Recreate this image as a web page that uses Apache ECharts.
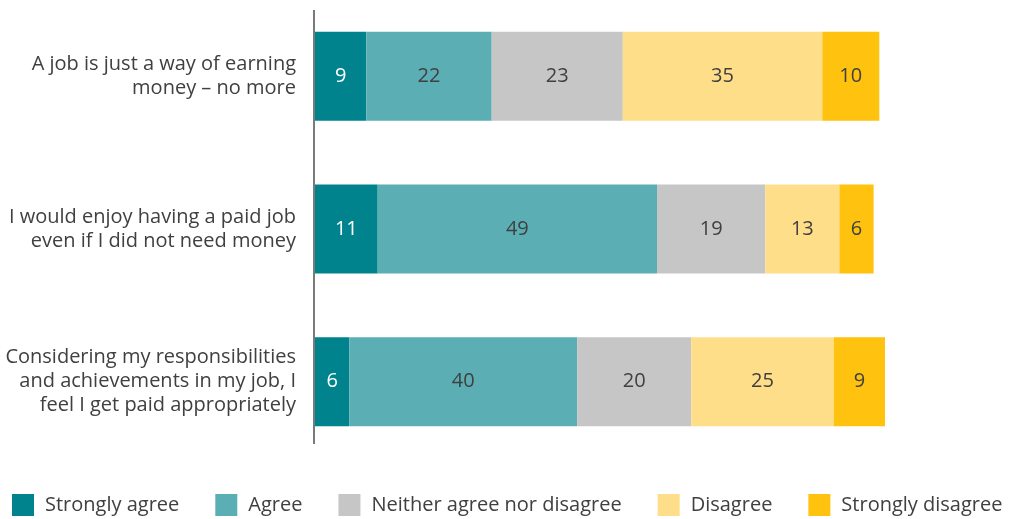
<!DOCTYPE html>
<html>
<head>
<meta charset="utf-8">
<style>
  html, body { margin: 0; padding: 0; background: #fff; }
  #chart { width: 1010px; height: 519px; }
</style>
<script src="https://cdn.jsdelivr.net/npm/echarts@6/dist/echarts.min.js"></script>
</head>
<body>
<div id="chart"></div>
<script>
// Survey statements (top to bottom)
const statements = [
  'A job is just a way of earning\nmoney – no more',
  'I would enjoy having a paid job\neven if I did not need money',
  'Considering my responsibilities\nand achievements in my job, I\nfeel I get paid appropriately'
];

// Response shares (%) per statement
const stronglyAgree    = [9, 11, 6];
const agree            = [22, 49, 40];
const neither          = [23, 19, 20];
const disagree         = [35, 13, 25];
const stronglyDisagree = [10, 6, 9];

const seriesNames = ['Strongly agree', 'Agree', 'Neither agree nor disagree', 'Disagree', 'Strongly disagree'];
const seriesData  = [stronglyAgree, agree, neither, disagree, stronglyDisagree];
const colors      = ['#00838C', '#5AAEB4', '#C6C6C6', '#FFDE89', '#FFC20F'];
const labelColors = ['#ffffff', '#404040', '#404040', '#404040', '#404040'];

const FONT = '"Open Sans", sans-serif';

const chart = echarts.init(document.getElementById('chart'), null, { renderer: 'canvas' });

chart.setOption({
  animation: false,
  color: colors,
  textStyle: { fontFamily: FONT },
  grid: { left: 315, right: 125, top: -4, height: 462 },
  legend: {
    top: 489,
    left: 7,
    itemWidth: 22,
    itemHeight: 22,
    itemGap: 36,
    icon: 'rect',
    textStyle: { fontFamily: FONT, fontSize: 20, color: '#404040', padding: [0, 0, 0, 6] },
    data: seriesNames
  },
  xAxis: {
    type: 'value',
    min: 0,
    max: 100,
    show: false
  },
  yAxis: {
    type: 'category',
    inverse: true,
    data: statements,
    axisLine: { show: false },
    axisTick: { show: false },
    axisLabel: {
      margin: 19,
      fontFamily: FONT,
      fontSize: 20,
      lineHeight: 24,
      color: '#404040',
      align: 'right'
    }
  },
  graphic: [{
    type: 'line',
    shape: { x1: 314, y1: 10, x2: 314, y2: 444 },
    style: { stroke: '#7a7a7a', lineWidth: 2 },
    z: 10
  }],
  series: seriesNames.map((name, i) => ({
    name: name,
    type: 'bar',
    stack: 'total',
    barWidth: 89,
    data: seriesData[i],
    itemStyle: { color: colors[i] },
    label: {
      show: true,
      position: 'inside',
      fontFamily: FONT,
      fontSize: 20,
      color: labelColors[i]
    }
  }))
});
</script>
</body>
</html>
